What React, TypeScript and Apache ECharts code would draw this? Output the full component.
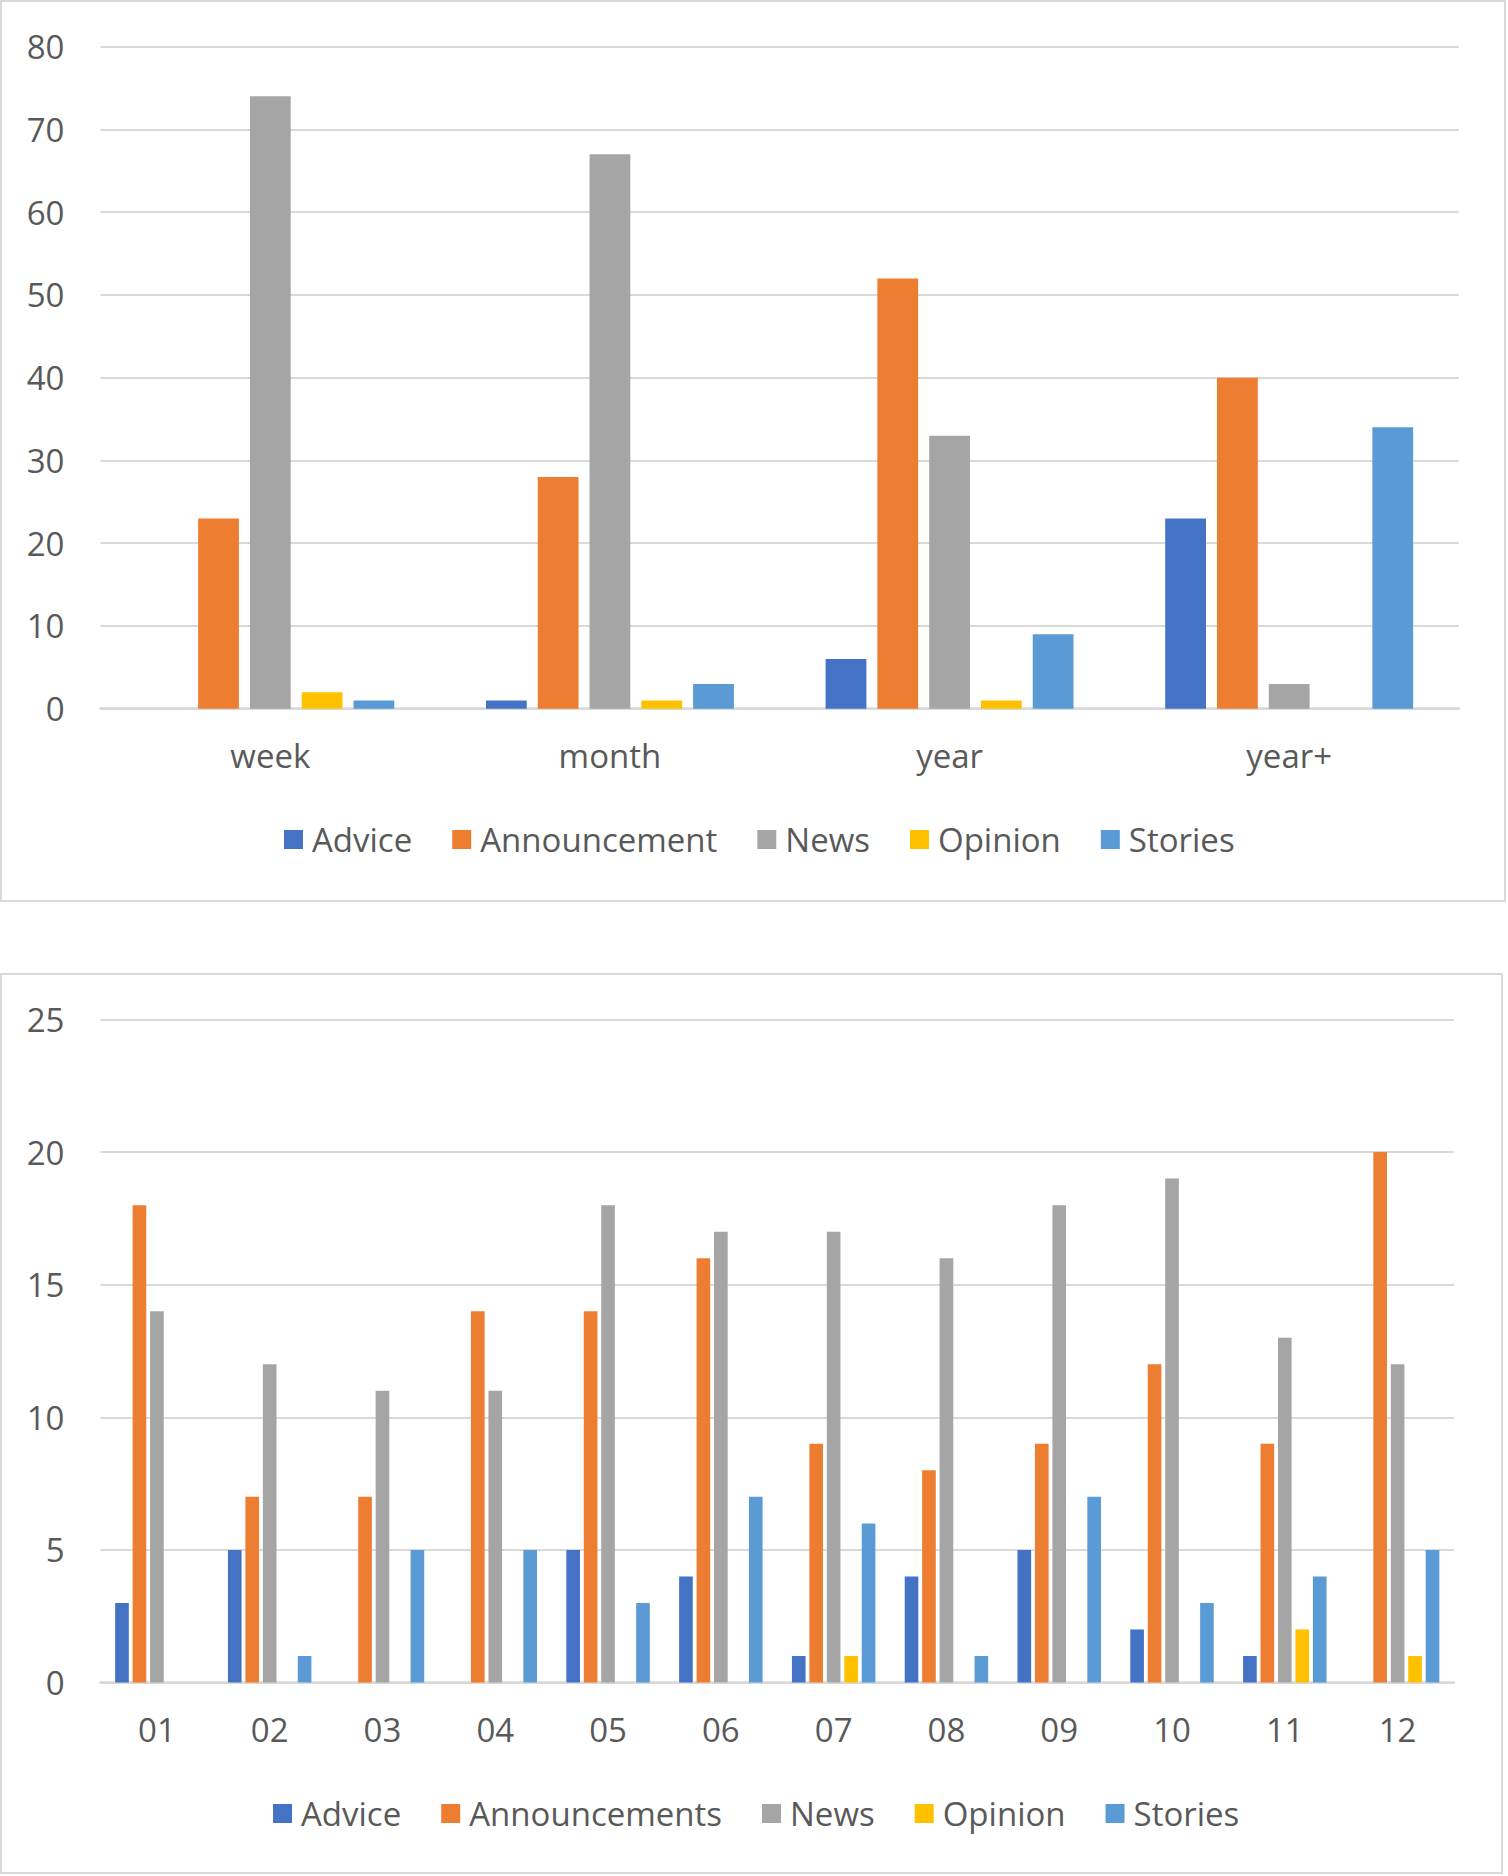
import React, { useEffect, useRef } from 'react';
import * as echarts from 'echarts';

// top chart: posts by age
const ageCategories = ['week', 'month', 'year', 'year+'];
const ageAdvice = [0, 1, 6, 23];
const ageAnnouncement = [23, 28, 52, 40];
const ageNews = [74, 67, 33, 3];
const ageOpinion = [2, 1, 1, 0];
const ageStories = [1, 3, 9, 34];

// bottom chart: posts by month
const months = ['01', '02', '03', '04', '05', '06', '07', '08', '09', '10', '11', '12'];
const monthAdvice = [3, 5, 0, 0, 5, 4, 1, 4, 5, 2, 1, 0];
const monthAnnouncements = [18, 7, 7, 14, 14, 16, 9, 8, 9, 12, 9, 20];
const monthNews = [14, 12, 11, 11, 18, 17, 17, 16, 18, 19, 13, 12];
const monthOpinion = [0, 0, 0, 0, 0, 0, 1, 0, 0, 0, 2, 1];
const monthStories = [0, 1, 5, 5, 3, 7, 6, 1, 7, 3, 4, 5];

const COLORS = ['#4472C4', '#ED7D31', '#A5A5A5', '#FFC000', '#5B9BD5'];
const TEXT = '#595959';
const LINE = '#D9D9D9';
const FONT = '"Open Sans", sans-serif';

const App: React.FC = () => {
  const chartRef = useRef<HTMLDivElement | null>(null);

  useEffect(() => {
    if (!chartRef.current) return;
    const myChart = echarts.init(chartRef.current, undefined, { renderer: 'svg' });

    const labelStyle = { color: TEXT, fontSize: 33, fontFamily: FONT };

    const makeBars = (
      names: string[],
      values: number[][],
      idx: number,
      catGap: string,
      gap: string
    ) =>
      names.map((name, i) => ({
        name,
        type: 'bar' as const,
        xAxisIndex: idx,
        yAxisIndex: idx,
        data: values[i],
        itemStyle: { color: COLORS[i] },
        barGap: gap,
        barCategoryGap: catGap,
      }));

    const topNames = ['Advice', 'Announcement', 'News', 'Opinion', 'Stories'];
    const bottomNames = ['Advice', 'Announcements', 'News', 'Opinion', 'Stories'];

    const xAxisBase = {
      type: 'category' as const,
      axisTick: { show: false },
      axisLine: { lineStyle: { color: LINE, width: 2.5 } },
      axisLabel: { ...labelStyle, margin: 30 },
    };
    const yAxisBase = {
      type: 'value' as const,
      min: 0,
      axisLine: { show: false },
      axisTick: { show: false },
      axisLabel: { ...labelStyle, margin: 36 },
      splitLine: { lineStyle: { color: LINE, width: 2 } },
    };

    const legendBase = {
      itemWidth: 19,
      itemHeight: 19,
      itemGap: 40,
      icon: 'rect',
      textStyle: { ...labelStyle, padding: [0, 0, 0, 4] },
    };

    const option: echarts.EChartsOption = {
      animation: false,
      backgroundColor: '#ffffff',
      grid: [
        { left: 100.5, top: 46.7, width: 1358.5, height: 662, containLabel: false },
        { left: 100.5, top: 1019.5, width: 1353.5, height: 663, containLabel: false },
      ],
      xAxis: [
        { ...xAxisBase, gridIndex: 0, data: ageCategories },
        { ...xAxisBase, gridIndex: 1, data: months },
      ],
      yAxis: [
        { ...yAxisBase, gridIndex: 0, max: 80, interval: 10 },
        { ...yAxisBase, gridIndex: 1, max: 25, interval: 5 },
      ],
      legend: [
        { ...legendBase, data: topNames, left: 279, top: 818 },
        { ...legendBase, data: bottomNames, left: 268, top: 1792 },
      ],
      graphic: [
        {
          type: 'rect',
          z: -10,
          shape: { x: 1, y: 1, width: 1504, height: 900 },
          style: { fill: 'none', stroke: LINE, lineWidth: 2 },
        },
        {
          type: 'rect',
          z: -10,
          shape: { x: 1, y: 974, width: 1501, height: 899 },
          style: { fill: 'none', stroke: LINE, lineWidth: 2 },
        },
      ],
      series: [
        ...makeBars(
          topNames,
          [ageAdvice, ageAnnouncement, ageNews, ageOpinion, ageStories],
          0,
          '27%',
          '27%'
        ),
        ...makeBars(
          bottomNames,
          [monthAdvice, monthAnnouncements, monthNews, monthOpinion, monthStories],
          1,
          '26%',
          '28%'
        ),
      ],
    };

    myChart.setOption(option);

    return () => {
      myChart.dispose();
    };
  }, []);

  return (
    <div
      ref={chartRef}
      style={{ position: 'absolute', left: 0, top: 0, width: 1508, height: 1876 }}
    ></div>
  );
};

export default App;
